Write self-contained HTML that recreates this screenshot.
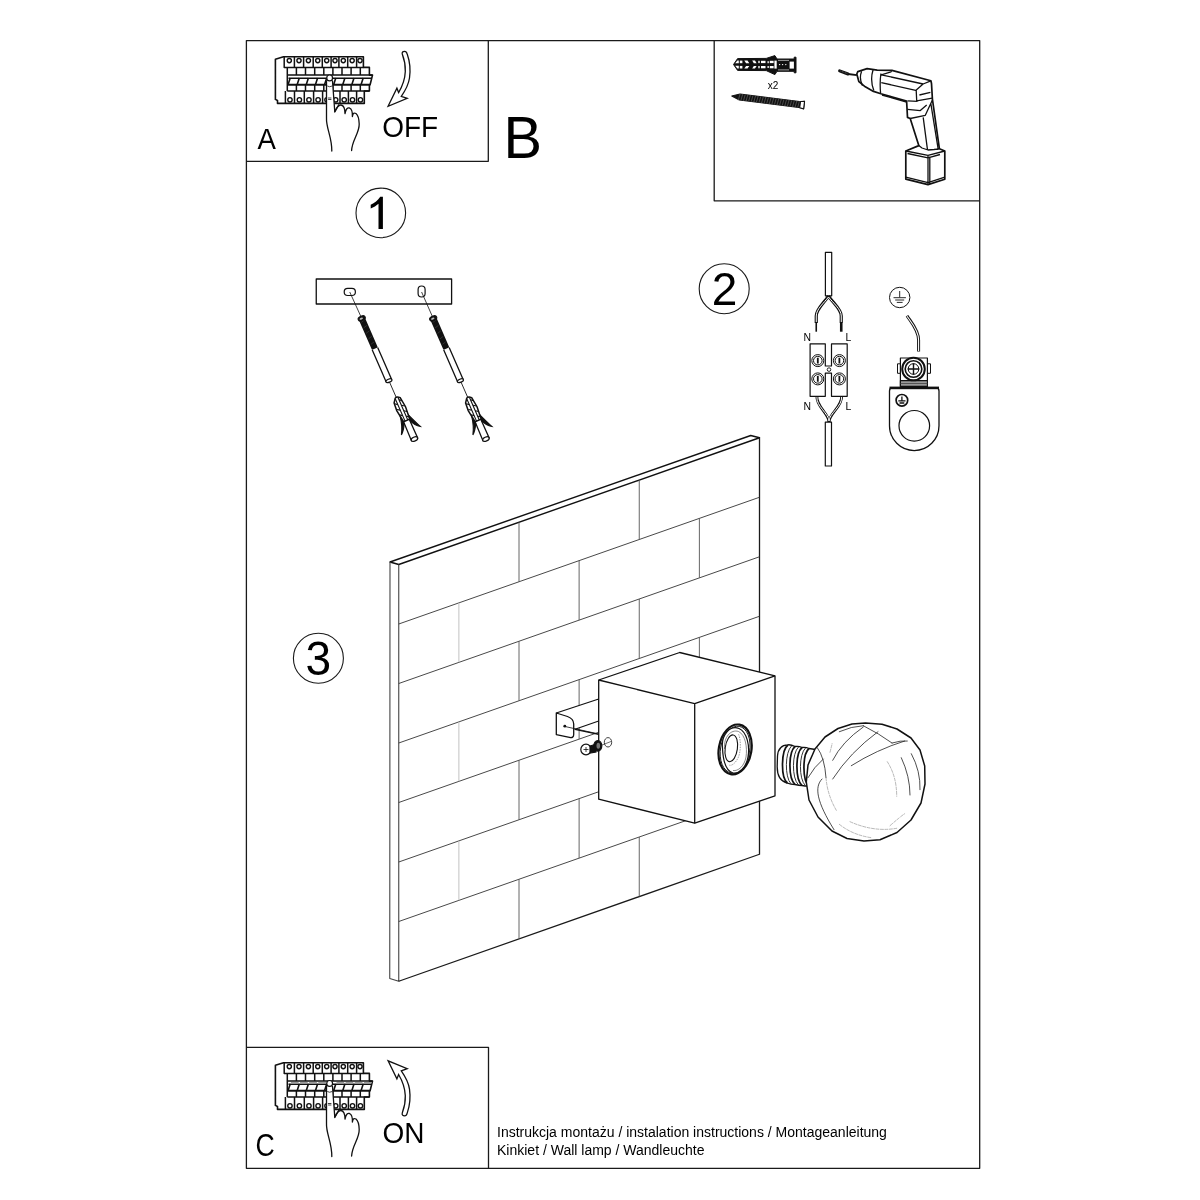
<!DOCTYPE html>
<html><head><meta charset="utf-8">
<style>
html,body{margin:0;padding:0;background:#fff;width:1200px;height:1200px;overflow:hidden}
svg{display:block;will-change:transform}
text{font-family:"Liberation Sans",sans-serif;fill:#000}
</style></head>
<body>
<svg width="1200" height="1200" viewBox="0 0 1200 1200">
<g fill="none" stroke="#1a1a1a" stroke-width="1.3" stroke-linejoin="round">
  <!-- outer frame -->
  <rect x="246.4" y="40.6" width="733.3" height="1127.7"/>
  <!-- box A -->
  <polyline points="246.4,161.3 488.3,161.3 488.3,40.6"/>
  <!-- top right box -->
  <polyline points="714.2,40.6 714.2,200.8 979.7,200.8"/>
  <!-- box C -->
  <polyline points="246.4,1047.3 488.5,1047.3 488.5,1168.3"/>
</g>
<!-- circles -->
<g fill="none" stroke="#1a1a1a" stroke-width="1.1">
  <circle cx="380.8" cy="212.9" r="24.8"/>
  <circle cx="724.2" cy="288.8" r="25"/>
  <circle cx="318.4" cy="658.2" r="25"/>
</g>
<text transform="translate(257.6,148.7) scale(0.985,1.08)" font-size="28">A</text>
<text transform="translate(382.2,136.9) scale(1,1.08)" font-size="28">OFF</text>
<text transform="translate(503.6,157.8) scale(1,1.03)" font-size="57.7">B</text>
<text transform="translate(255.6,1155.8) scale(0.95,1.1)" font-size="28">C</text>
<text transform="translate(382.5,1142.5) scale(1,1.07)" font-size="28">ON</text>
<path d="M382.9,196.7 V229 H378.5 V203.7 C376.5,205.5 373.5,207.3 370.7,208.6 V204.8 C374.5,203 378,200.5 380.2,196.7 Z" fill="#000"/>
<text transform="translate(711.8,304.9) scale(1,1.02)" font-size="46">2</text>
<text transform="translate(305.6,675) scale(1,1.03)" font-size="46">3</text>
<text x="497" y="1137" font-size="14" fill="#222">Instrukcja montażu / instalation instructions / Montageanleitung</text>
<text x="497" y="1155" font-size="14" fill="#222">Kinkiet / Wall lamp / Wandleuchte</text>

<!-- WALL -->
<g id="wall" fill="none" stroke-linejoin="round">
  <path d="M390,562 L750.75,435.5 L759.5,437.75 L398.75,564.5 Z" stroke="#111" stroke-width="1.4"/>
  <path d="M390,562 L389.75,978.5 L398.75,981.25 L398.75,564.5" stroke="#444" stroke-width="1.1"/>
  <path d="M398.75,981.25 L759.5,854.25 L759.5,437.75" stroke="#1a1a1a" stroke-width="1.3"/>
</g>
<g id="bricks" fill="none" stroke-width="0.9">
<path stroke="#333" d="M398.75,624.00 L759.50,497.25 M398.75,683.50 L759.50,556.75 M398.75,743.00 L759.50,616.25 M398.75,802.50 L759.50,675.75 M398.75,862.00 L759.50,735.25 M398.75,921.50 L759.50,794.75"/>
<path stroke="#555" d="M519.00,522.25 V581.75 M639.25,480.00 V539.50 M579.12,560.62 V620.12 M699.38,518.38 V577.88 M519.00,641.25 V700.75 M639.25,599.00 V658.50 M579.12,679.62 V739.12 M699.38,637.38 V696.88 M519.00,760.25 V819.75 M639.25,718.00 V777.50 M579.12,798.62 V858.12 M699.38,756.38 V815.88 M519.00,879.25 V938.75 M639.25,837.00 V896.50"/>
<path stroke="#bbb" d="M458.88,602.88 V662.38 M458.88,721.88 V781.38 M458.88,840.88 V900.38"/>
</g>

<!-- BRACKET -->
<g id="bracket" fill="#fff" stroke="#111" stroke-width="1.2" stroke-linejoin="round">
  <path d="M556.3,713 L598.7,699 L598.7,721 L575,729.3 L573.7,738 L556.3,734.6 Z" fill="#fff" stroke="none"/>
  <path d="M556.3,713 L598.7,699 L598.7,721 L575,729.3 L598.7,734.3" fill="none"/>
  <path d="M556.3,713 L567.5,716.5 Q573.7,718.8 573.7,724 L573.7,734.5 Q573.7,738.3 569.5,737.4 L556.3,734.6 Z" stroke-width="1.3"/>
  <circle cx="564.8" cy="726.2" r="1.4" fill="#111" stroke="none"/>
  <path d="M565,726.5 L598.7,734" fill="none" stroke-width="0.8"/>
</g>
<!-- CUBE -->
<g id="cube" fill="#fff" stroke="#111" stroke-width="1.3" stroke-linejoin="round">
  <path d="M598.7,680 L679.7,652.5 L775,675.8 L775,795.8 L694.7,823.2 L598.7,799.2 Z"/>
  <path d="M598.7,680 L694.7,703.7 L775,675.8 M694.7,703.7 L694.7,823.2" fill="none"/>
  <!-- socket -->
  <ellipse cx="735.1" cy="749.4" rx="16.3" ry="25.1" transform="rotate(10 735.1 749.4)" stroke-width="2.2"/>
  <ellipse cx="735.1" cy="749.6" rx="14.6" ry="23.6" transform="rotate(10 735.1 749.6)" fill="none" stroke-width="0.9"/>
  <path d="M722.5,748 C721,735 730,725 739,728.5 C747,732 750,746 748,757 C746,768 739,774 733,773 C726,771 723,760 722.5,748 Z" stroke-width="1.2"/>
  <path d="M724.5,749 C723.5,737 731,729 738.5,731.5 C745.5,734.5 747.5,748 746,757 C744.5,766 738,771.5 733,770.5" fill="none" stroke="#555" stroke-width="0.7"/>
  <ellipse cx="731.3" cy="748.3" rx="6.1" ry="13.5" transform="rotate(8 731.3 748.3)" stroke-width="1.1"/>
  <path d="M738.6,734.3 C741,740 741,752 738,758 C735.5,763 732,766 729.3,765.2" fill="none" stroke="#777" stroke-width="0.7" stroke-dasharray="1.5 1"/>
</g>
<!-- screw + nut + washer -->
<g id="screw" stroke="#111" stroke-width="1.2">
  <ellipse cx="586" cy="749.5" rx="5.2" ry="5.3" fill="#fff"/>
  <path d="M583.5,749.5 H588.5 M586,747 V752" stroke-width="0.8" fill="none"/>
  <path d="M590,746 L595,744.5 L596,752 L590,753 Z" fill="#111"/>
  <ellipse cx="597.8" cy="745.8" rx="4" ry="5.3" fill="#111"/>
  <ellipse cx="598.3" cy="745.8" rx="1.8" ry="3" fill="#777" stroke="none"/>
  <ellipse cx="608" cy="742.3" rx="3.7" ry="4.7" fill="#fff" stroke-width="0.8"/>
  <path d="M602,745 L611,741.5" stroke-width="0.6" fill="none"/>
</g>
<!-- BULB -->
<g id="bulb" fill="#fff" stroke="#111" stroke-linejoin="round">
  <path d="M777.5,756 C778,748 782,745 788,744.8 C791,744.5 793,745.5 795,746.5 C797.5,746 800,746.5 802,747.5 C804.5,747 807,747.5 809,748.5 L815.5,749.5 L815.5,787 L809,786 C807,786.5 804.5,786 802,785.5 C800,785.5 797,785 795,784.5 C792.5,784.5 789.5,784 787,783 C781,781.5 777,776 777.2,766 Z" stroke-width="1.3"/>
  <path d="M788,745 C781,750 780.5,778 787.5,783 M795,746.5 C788.5,752 788,778 795,784.5 M802,747.5 C795.5,753 795,779 802,785.5 M809,748.5 C802.5,754 802,780 809,786" fill="none" stroke-width="1.7"/>
  <path d="M791.5,746 C785,752 784.5,777 791,783.8 M798.5,747 C792,753 791.5,778 798.5,785 M805.5,748 C799,754 798.5,779 805.5,785.8" fill="none" stroke="#333" stroke-width="1"/>
  <path d="M865.5,723 L882,724.2 L897,729 L911,738 L920,750 L924.7,766 L925,784 L921,803 L911,820 L897,832.5 L880,839.8 L864,841 L847,838.5 L832,831 L818,817 L809,800 L806.3,782 L808,765 L815,749 L825,737 L838,728.5 L852,724 Z" stroke-width="1.5"/>
  <g fill="none" stroke-linecap="round">
<path d="M839.3,731.7 Q851.3,726.3 863.3,725.7 M832.7,760.3 Q842.0,741.7 863.3,727.0 M832.7,779.0 Q850.0,752.3 878.0,731.7 M851.3,765.7 Q876.7,749.7 904.7,741.0 M863.3,725.7 Q879.3,733.7 892.0,743.0 M892.0,743.0 Q900.7,740.3 907.3,741.0 M901.3,757.7 Q910.0,776.3 910.0,795.0 M911.3,753.7 Q920.7,771.0 920.0,789.7 M823.3,759.0 Q814.0,767.0 808.0,777.7 M822.0,779.0 C814.0,787.0 816.7,801.7 834.0,829.7 M817.3,747.7 Q824.7,757.7 826.0,777.7" stroke="#222" stroke-width="0.8"/>
<path d="M850.0,821.7 Q874.0,832.3 896.7,828.3 M887.3,761.7 Q896.7,776.3 896.7,796.3 M826.0,777.7 Q827.3,795.0 836.7,811.0 M890.0,825.7 Q900.7,816.3 904.7,813.7 M839.3,824.3 Q852.7,835.0 871.3,837.7 M830.0,752.3 Q832.7,741.7 832.0,743.7" stroke="#999" stroke-width="0.7" stroke-dasharray="3 1.5"/>
</g>
</g>

<!-- STEP 1 -->
<g id="step1" stroke="#111" stroke-linejoin="round">
  <rect x="316.25" y="279" width="135.35" height="25" fill="none" stroke-width="1.3"/>
  <rect x="344.2" y="288.4" width="11.2" height="7.1" rx="3.5" fill="none" stroke-width="1.2"/>
  <rect x="418.1" y="286" width="7" height="11" rx="3.5" fill="none" stroke-width="1.2"/>
  <path d="M349.75,292 L361.1,317 M421.6,292 L432.6,317" stroke-width="0.8" fill="none"/>
</g>
<defs>
<g id="scr">
  <path d="M0,70 V88" stroke="#111" stroke-width="0.8" fill="none"/>
  <rect x="-3.2" y="0.5" width="6.4" height="34" rx="1" fill="#111" stroke="none"/>
  <path d="M-2,5 L2,4 M-2,11 L2,10 M-2,17 L2,16 M-2,23 L2,22 M-2,29 L2,28" stroke="#444" stroke-width="0.6" fill="none"/>
  <ellipse cx="0" cy="1.5" rx="3.8" ry="2.3" fill="#111" stroke="#111" stroke-width="1"/>
  <ellipse cx="-0.5" cy="1.6" rx="1.8" ry="0.9" fill="#bbb" stroke="none"/>
  <path d="M-3,34.5 V69.5 M3,34.5 V69.5" stroke="#111" stroke-width="1.3" fill="none"/>
  <ellipse cx="0" cy="69.5" rx="3.2" ry="1.6" fill="#fff" stroke="#111" stroke-width="1.2"/>
  <!-- dowel -->
  <path d="M-3,113 L-3.4,133.5 L3.4,133.5 L3.2,113" fill="#fff" stroke="#111" stroke-width="1.3"/>
  <path d="M-3.8,106 C-5,113 -6.5,118 -10.3,124.2 C-7.5,122 -5,118.5 -3,114.5" fill="#111" stroke="#111" stroke-width="1.1"/>
  <path d="M3.8,107 C5.5,113 8,118 10.5,124 C7.5,122 5,119 3.2,114.5" fill="#111" stroke="#111" stroke-width="1.1"/>
  <path d="M-1.2,88 Q1,86.8 3.5,89.5 L4.8,100 L3.6,113 L-3,113 L-4.8,100 L-4.2,92 Z" fill="#fff" stroke="#111" stroke-width="1.5"/>
  <path d="M-1.4,88.5 V113 M1.6,88.5 V113" stroke="#111" stroke-width="1.1" fill="none"/>
  <path d="M-4,93 L-1.4,95 M-4.3,99 L-1.4,101 M-4,105 L-1.4,107 M1.6,91 L4,93 M1.6,97 L4.5,99 M1.6,103 L4.3,105 M1.6,109 L4,110.5" stroke="#111" stroke-width="1.1" fill="none"/>
  <ellipse cx="0" cy="133.2" rx="3.4" ry="2" fill="#fff" stroke="#111" stroke-width="1.2"/>
</g>
</defs>
<use href="#scr" transform="translate(361.1,317) rotate(-23.6)"/>
<use href="#scr" transform="translate(432.6,317) rotate(-23.6)"/>

<!-- STEP 2 -->
<g id="step2" stroke="#111" stroke-linejoin="round">
  <rect x="825.4" y="252.3" width="6.3" height="43.5" fill="#fff" stroke-width="1.2"/>
  <rect x="825.3" y="422.2" width="6.2" height="43.8" fill="#fff" stroke-width="1.2"/>
  <g fill="none" stroke-width="2.8">
    <path d="M828.5,296 C824,303 816.25,309 816.25,316 V323" stroke-width="3.2"/>
    <path d="M828.5,296 C833,303 841.25,309 841.25,316 V323" stroke-width="3.2"/>
    <path d="M816.9,396.3 C816,406 829,414 829,422"/>
    <path d="M841.6,396.3 C842.5,406 829,414 829,422"/>
  </g>
  <g fill="none" stroke="#fff" stroke-width="1">
    <path d="M828.5,297 C824,303 816.25,309 816.25,316 V322"/>
    <path d="M828.5,297 C833,303 841.25,309 841.25,316 V322"/>
    <path d="M816.9,396.8 C816,406 829,414 829,421"/>
    <path d="M841.6,396.8 C842.5,406 829,414 829,421"/>
  </g>
  <path d="M816.25,323 V331.7" stroke-width="1.6" fill="none"/>
  <path d="M841.25,323 V331.7" stroke-width="2.6" fill="none"/>
  <path d="M810.1,343.8 H825.3 V366 H831.5 V343.8 H847.2 V396.3 H831.5 V373.2 H825.3 V396.3 H810.1 Z" fill="#fff" stroke-width="1.2"/>
  <circle cx="829" cy="369.6" r="1.8" fill="none" stroke-width="0.9"/>
  <g fill="#fff" stroke-width="1">
    <circle cx="817.8" cy="360.6" r="6"/><circle cx="817.8" cy="360.6" r="4.3"/>
    <circle cx="817.8" cy="378.9" r="6"/><circle cx="817.8" cy="378.9" r="4.3"/>
    <circle cx="839.4" cy="360.6" r="6"/><circle cx="839.4" cy="360.6" r="4.3"/>
    <circle cx="839.4" cy="378.9" r="6"/><circle cx="839.4" cy="378.9" r="4.3"/>
  </g>
  <path d="M817.8,357.8 V363.4 M817.8,376.1 V381.7 M839.4,357.8 V363.4 M839.4,376.1 V381.7" stroke-width="1.8" fill="none"/>
  <!-- ground -->
  <circle cx="899.7" cy="297.5" r="10.2" fill="none" stroke-width="1"/>
  <path d="M899.7,291 V297.4 M893.5,297.7 H905.9 M895.2,300 H904.2 M896.8,302.4 H902.6" stroke-width="0.9" fill="none"/>
  <path d="M907,315.7 C911,322 918.6,330 918.6,340 V351.4" stroke-width="3" fill="none"/>
  <path d="M907,316.2 C911,322 918.6,330 918.6,340 V351" stroke="#fff" stroke-width="1.1" fill="none"/>
  <path d="M892.5,387.9 H936 Q939,387.9 939,391 V425.8 A24.75,24.75 0 0 1 889.5,425.8 V391 Q889.5,387.9 892.5,387.9 Z" fill="#fff" stroke-width="1.3"/>
  <rect x="889.5" y="386.6" width="49.5" height="2.6" fill="#111" stroke="none"/>
  <circle cx="914.3" cy="425.8" r="15.3" fill="none" stroke-width="1.2"/>
  <circle cx="901.9" cy="400.3" r="5.8" fill="none" stroke-width="1.7"/>
  <path d="M901.9,396.5 V400.5 M898.3,400.8 H905.5 M899.5,403 H904.3" stroke-width="1.3" fill="none"/>
  <rect x="897.5" y="363.8" width="33" height="9.5" fill="#fff" stroke-width="1"/>
  <rect x="900.4" y="358" width="27" height="28.4" fill="#fff" stroke-width="1.2"/>
  <rect x="900.4" y="380.6" width="27" height="5.8" fill="#999" stroke-width="1.1"/>
  <path d="M900.4,383.5 H927.4" stroke="#444" stroke-width="0.8"/>
  <circle cx="913.5" cy="369" r="11.3" fill="#fff" stroke-width="2"/>
  <circle cx="913.5" cy="369" r="8.3" fill="#fff" stroke-width="1.6"/>
  <circle cx="913.5" cy="369" r="5.3" fill="#fff" stroke-width="1"/>
  <path d="M913.5,363.2 V374.8 M907.7,369 H919.3" stroke-width="1.4" fill="none"/>
</g>
<g font-size="10.4" fill="#222">
  <text x="803.5" y="340.5">N</text><text x="845.5" y="340.5">L</text>
  <text x="803.5" y="409.8">N</text><text x="845.5" y="409.8">L</text>
</g>

<defs>
<g id="panel" stroke="#111" stroke-linejoin="round" fill="none">
  <path d="M275.4,59.2 L283.5,56.7 H363.4 V67.4 H369.4 V75.1 H372.5 L370.1,84.7 H369.4 V91 H364.3 V103.4 H277.5 V100.5 L275.4,99.4 Z" fill="#fff" stroke-width="1.6"/>
  <path d="M284.2,56.7 V67.4 H363.4 M287.3,67.4 V91 M287.3,75.1 H372.5 M287.3,91 H369.4 M285.4,91 V103.4" stroke-width="1.5"/>
  <path d="M287.3,84.7 H370.1" stroke-width="2"/>
  <path d="M288.5,78.2 H371.8" stroke-width="1.5"/>
  <path d="M294.4,57 V67.4 M303.6,57 V67.4 M313.2,57 V67.4 M322.3,57 V67.4 M331.1,57 V67.4 M338.9,57 V67.4 M347.7,57 V67.4 M356.6,57 V67.4 M296.4,67.4 V75.1 M296.4,84.7 V91 M305.5,67.4 V75.1 M305.5,84.7 V91 M314.7,67.4 V75.1 M314.7,84.7 V91 M323.8,67.4 V75.1 M323.8,84.7 V91 M332.9,67.4 V75.1 M332.9,84.7 V91 M342.0,67.4 V75.1 M342.0,84.7 V91 M351.1,67.4 V75.1 M351.1,84.7 V91 M360.3,67.4 V75.1 M360.3,84.7 V91 M294.5,91 V103.4 M304.3,91 V103.4 M313.6,91 V103.4 M322.6,91 V103.4 M331.4,91 V103.4 M340.0,91 V103.4 M348.4,91 V103.4 M356.6,91 V103.4" stroke-width="1.5"/>
  <path d="M288.1,84.4 L290.2,77.9 M297.2,84.4 L299.3,77.9 M306.3,84.4 L308.4,77.9 M315.5,84.4 L317.6,77.9 M324.6,84.4 L326.7,77.9 M333.7,84.4 L335.8,77.9 M342.8,84.4 L344.9,77.9 M351.9,84.4 L354.0,77.9 M361.1,84.4 L363.2,77.9" stroke-width="1.6"/>
  <g stroke-width="1.4"><circle cx="289.30" cy="60.6" r="2.1"/><circle cx="299.00" cy="60.6" r="2.1"/><circle cx="308.40" cy="60.6" r="2.1"/><circle cx="317.75" cy="60.6" r="2.1"/><circle cx="326.70" cy="60.6" r="2.1"/><circle cx="335.00" cy="60.6" r="2.1"/><circle cx="343.30" cy="60.6" r="2.1"/><circle cx="352.15" cy="60.6" r="2.1"/><circle cx="360.00" cy="60.6" r="2.1"/><circle cx="289.95" cy="99.8" r="2.2"/><circle cx="299.40" cy="99.8" r="2.2"/><circle cx="308.95" cy="99.8" r="2.2"/><circle cx="318.10" cy="99.8" r="2.2"/><circle cx="327.00" cy="99.8" r="2.2"/><circle cx="335.70" cy="99.8" r="2.2"/><circle cx="344.20" cy="99.8" r="2.2"/><circle cx="352.50" cy="99.8" r="2.2"/><circle cx="360.45" cy="99.8" r="2.2"/></g>
</g>
<g id="hand" stroke="#111" fill="none" stroke-linejoin="round" stroke-linecap="round">
  <path d="M326.5,81 V118 C326,128 332,137 331.8,151 H351.6 C352,140 359.5,133 359.2,124 C359,118 358.5,115.5 356,113.5 L334.8,111.5 L332.5,81 Z" fill="#fff" stroke="none"/>
  <path d="M326.5,81 V118 C326,128 332,137 331.8,151" stroke-width="1.3"/>
  <path d="M351.6,150.6 C352,140 359.5,133 359.2,124 C359,118 358.5,115.5 356,113.5 C354,112.5 353,113 352.4,116.5 C352.6,111 352,109 349.5,108 C347.5,107.5 346,108.5 345,113.5 C345,108.5 344,105.5 341,105 C339,104.8 337.5,105.5 334.8,111.5" stroke-width="1.3"/>
  <path d="M332.5,81 L334.8,112 L338.8,104.8" stroke-width="1.3"/>
  <circle cx="329.65" cy="77.9" r="2.9" fill="#fff" stroke-width="1.2"/>
  <path d="M327.6,86.2 Q329.5,87.5 331.8,86.2 M328.3,98 H331 M328.5,99.5 H331" stroke-width="0.8"/>
</g>
</defs>
<use href="#panel"/>
<use href="#hand"/>
<use href="#panel" transform="translate(0,1006)"/>
<path d="M290.9,1082.75 H298.6 M300.0,1082.75 H307.7 M309.1,1082.75 H316.9 M318.3,1082.75 H326.0 M336.5,1082.75 H344.2 M345.6,1082.75 H353.3 M354.7,1082.75 H362.5 M363.9,1082.75 H371.6" stroke="#999" stroke-width="1.3" fill="none"/>
<use href="#hand" transform="translate(0,1005.5)"/>
<path d="M402.4,54.6 C401.5,52 403,51.3 404.6,51.3 C406,51.3 406.8,52.5 407.2,54 C410,62 410.5,71 409.5,78 C408.5,85 405,91 401.3,96.3 L407.2,98.4 L388.1,106.3 L396.9,88.2 L398.6,92.6 C402.5,86 405,79 405.3,71.5 C405.5,65 404.5,60 402.4,54.6 Z" fill="#fff" stroke="#111" stroke-width="1.3" stroke-linejoin="miter"/>
<path d="M402.4,54.6 C401.5,52 403,51.3 404.6,51.3 C406,51.3 406.8,52.5 407.2,54 C410,62 410.5,71 409.5,78 C408.5,85 405,91 401.3,96.3 L407.2,98.4 L388.1,106.3 L396.9,88.2 L398.6,92.6 C402.5,86 405,79 405.3,71.5 C405.5,65 404.5,60 402.4,54.6 Z" transform="matrix(1,0,0,-1,0,1167.1)" fill="#fff" stroke="#111" stroke-width="1.3" stroke-linejoin="miter"/>

<!-- TOP RIGHT BOX items -->
<g id="dowel2" stroke="#111" stroke-linejoin="round">
  <path d="M733.5,64.5 L737.6,58.6 L766.2,58.4 L774.9,55.6 L777,59 H794.2 V57.2 H796 V72.8 H794.2 V71.3 H777 L774.9,74.6 L766.2,70.6 L737.6,70.4 Z" fill="#111" stroke-width="1"/>
  <g fill="#fff" stroke="none">
    <path d="M735.2,63.3 L737.4,60.5 H738.8 V63.3 Z M735.2,65.7 L737.4,68.5 H738.8 V65.7 Z"/>
    <rect x="739.8" y="60.6" width="2.6" height="2.6"/><rect x="739.8" y="65.9" width="2.6" height="2.6"/>
    <path d="M744.3,60.6 H747.5 L749.3,63.2 H746.1 Z M744.3,68.5 H747.5 L749.3,65.9 H746.1 Z"/>
    <path d="M752.2,60.6 H755 L756.6,63.2 H753.8 Z M752.2,68.5 H755 L756.6,65.9 H753.8 Z"/>
    <rect x="758.3" y="60.8" width="1.4" height="2.3"/><rect x="758.3" y="66" width="1.4" height="2.3"/>
    <rect x="761" y="60.8" width="4.5" height="2.3"/><rect x="761" y="66" width="4.5" height="2.3"/>
    <rect x="767.5" y="61.2" width="1.3" height="2"/><rect x="767.5" y="66" width="1.3" height="2"/>
    <rect x="769.8" y="60.8" width="3.8" height="2.3"/><rect x="769.8" y="66" width="3.8" height="2.3"/>
    <rect x="774.4" y="60.6" width="2.3" height="8"/>
    <rect x="789.6" y="61.6" width="4.3" height="7"/>
    <circle cx="779.6" cy="64.6" r="0.7"/><circle cx="782.6" cy="64.6" r="0.7"/><circle cx="785.8" cy="64.6" r="0.7"/>
  </g>
  <path d="M778,60.4 H789 M778,69.9 H789" stroke="#fff" stroke-width="0.6" fill="none"/>
</g>
<text x="767.8" y="89.4" font-size="10" fill="#222">x2</text>
<g transform="translate(731.75,96.10) rotate(7.09)" stroke="#111" stroke-linejoin="round">
  <path d="M0,0 L8,-3 H69.9 L72.9,-3.8 V3.8 L69.9,3 H8 Z" fill="#111" stroke-width="1"/>
  <path d="M8.0,-3.2 L7.0,3.2 M10.6,-3.2 L9.6,3.2 M13.2,-3.2 L12.2,3.2 M15.8,-3.2 L14.8,3.2 M18.4,-3.2 L17.4,3.2 M21.0,-3.2 L20.0,3.2 M23.6,-3.2 L22.6,3.2 M26.2,-3.2 L25.2,3.2 M28.8,-3.2 L27.8,3.2 M31.4,-3.2 L30.4,3.2 M34.0,-3.2 L33.0,3.2 M36.6,-3.2 L35.6,3.2 M39.2,-3.2 L38.2,3.2 M41.8,-3.2 L40.8,3.2 M44.4,-3.2 L43.4,3.2 M47.0,-3.2 L46.0,3.2 M49.6,-3.2 L48.6,3.2 M52.2,-3.2 L51.2,3.2 M54.8,-3.2 L53.8,3.2 M57.4,-3.2 L56.4,3.2 M60.0,-3.2 L59.0,3.2 M62.6,-3.2 L61.6,3.2 M65.2,-3.2 L64.2,3.2 M67.8,-3.2 L66.8,3.2" stroke="#555" stroke-width="0.8" fill="none"/>
  <path d="M68.9,-3.2 L72.9,-3.8 V3.8 L68.9,3.2 Z" fill="#fff" stroke-width="1.1"/>
</g>
<g id="drill" stroke="#111" stroke-linejoin="round" fill="none">
<path d="M856.8,74.0 L857.8,71.6 L867.1,68.6 L877.2,70.1 L891.9,70.4 L930.9,80.8 L931.5,83.5 L932.4,99.0 L939.4,148.8 L944.8,151.0 L944.8,179.2 L928.0,184.6 L905.8,179.2 L905.8,151.0 L918.8,145.6 L910.2,118.5 L907.5,117.4 L906.6,101.0 L880.9,93.7 L873.5,91.4 L865.3,86.8 L858.9,81.7 Z" fill="#fff" stroke-width="1.7"/>
<path d="M881.3,74.8 L891.9,71.5 M881.3,74.8 L923.1,84.0 L930.9,80.8 M881.3,82.6 L915.7,90.4 L923.1,84.0 M882.0,95.0 L906.6,102.0 M916.2,90.4 L916.7,100.8 L932.2,98.2 M919.4,95.0 L930.4,92.3 M907.5,100.8 L917.6,101.4 M907.5,109.3 L920.3,110.6 L926.7,105.1 M910.2,118.5 L925.3,115.3 L932.4,100.0 M923.2,117.4 L927.5,149.9 M930.8,103.3 L938.3,149.9 M905.8,151.0 L928.0,155.3 L944.8,151.0 M907.5,153.5 L928.0,157.8 L940.0,154.5 M928.0,155.3 L928.0,184.6 M929.8,156.5 L929.8,184.0 M905.8,177.2 L928.0,182.6 L944.8,177.2 M918.8,145.6 L922.0,148.0 L928.0,150.0 L934.0,149.5 L939.4,148.8 M861.6,71.2 Q858.8,78.5 862.5,85.6 M873.1,69.8 Q869.8,80 873.8,90.6 M880.9,73.5 Q879.6,83 880.6,93.3" stroke-width="1.3"/>
<path d="M839.6,70.8 L848,74" stroke-width="3" stroke-linecap="round"/>
<path d="M848,74 L856.8,75.2" stroke-width="1.8"/>
<path d="M840.5,71 L847.5,73.6" stroke="#888" stroke-width="0.7" stroke-dasharray="0.8 0.8"/>
</g>
</svg>
</body></html>
